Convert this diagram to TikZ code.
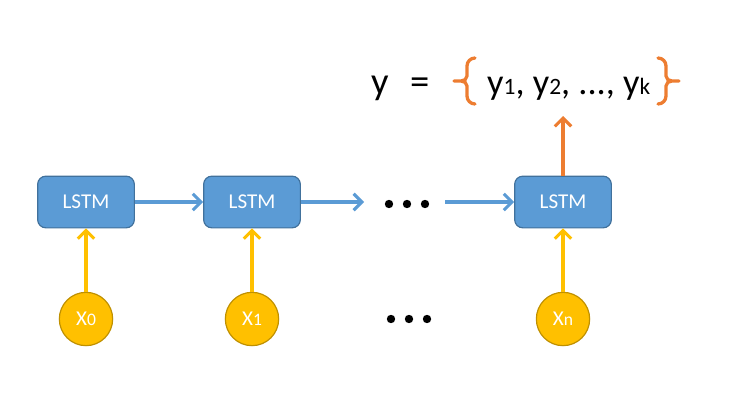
\documentclass[tikz,border=0pt]{standalone}
\usepackage{fontspec}
\setmainfont{Carlito}
\usepackage{tikz}
\usetikzlibrary{positioning, arrows.meta}
\definecolor{cellblue}{RGB}{91,155,213}
\definecolor{cellline}{RGB}{65,113,156}
\definecolor{inyellow}{RGB}{255,192,0}
\definecolor{inline}{RGB}{191,144,0}
\definecolor{outorange}{RGB}{237,125,49}
\tikzset{
  lstmcell/.style={draw=cellline, line width=1pt, fill=cellblue, rounded corners=7pt, text=white,
    minimum width=2.9cm, minimum height=1.55cm, align=center, font=\fontsize{18}{18}\selectfont},
  xinput/.style={circle, draw=inline, line width=1pt, fill=inyellow, text=white,
    minimum size=1.6cm, inner sep=0pt, font=\fontsize{18}{18}\selectfont},
  recedge/.style={draw=cellblue, line width=3pt, -{Straight Barb[length=7pt, width=14pt, line width=2.6pt]}},
  inedge/.style={draw=inyellow, line width=3pt, -{Straight Barb[length=7pt, width=14pt, line width=2.6pt]}},
  outedge/.style={draw=outorange, line width=3pt, -{Straight Barb[length=7pt, width=14pt, line width=2.6pt]}},
  brace/.style={draw=outorange, line width=2.8pt, line cap=round}
}
\begin{document}
\begin{tikzpicture}[x=0.03cm, y=-0.03cm]
  \useasboundingbox (0,0) rectangle (730,396);
  % cells
  \node[lstmcell] (c0) at (86,202)  {LSTM};
  \node[lstmcell] (c1) at (252,202) {LSTM};
  \node[lstmcell] (cn) at (563,202) {LSTM};
  % inputs
  \node[xinput] (x0) at (86,319)  {X{\fontsize{15}{15}\selectfont 0}};
  \node[xinput] (x1) at (252,319) {X{\fontsize{15}{15}\selectfont 1}};
  \node[xinput] (xn) at (563,319) {X{\fontsize{15}{15}\selectfont n}};
  % free ends
  \coordinate (d1) at (364,202);
  \coordinate (d2) at (445,202);
  \coordinate (yout) at (563,116);
  \draw[recedge] (c0) -- (c1);
  \draw[recedge] (c1.east) -- (d1);
  \draw[recedge] (d2) -- (cn.west);
  \foreach \a/\b in {x0/c0, x1/c1, xn/cn}
    \draw[inedge] (\a) -- (\b);
  \draw[outedge] (cn) -- (yout);
  % dots
  \foreach \x in {389, 407, 425} {
    \fill (\x,204) circle (4.2);
    \fill (\x+2,319) circle (4.2);
  }
  % output sequence
  \node[anchor=base west, inner sep=0pt, font=\fontsize{33}{33}\selectfont] (yv) at (371,94) {y};
  \node[anchor=base west, inner sep=0pt, font=\fontsize{33}{33}\selectfont] (eq) at (410,94) {=};
  \node[anchor=base west, inner sep=0pt, font=\fontsize{31}{31}\selectfont] (seq) at (487,94)
    {y{\fontsize{20}{20}\selectfont 1}, y{\fontsize{20}{20}\selectfont 2}, ..., y{\fontsize{20}{20}\selectfont k}};
  \draw[brace] (475,58) to[out=180,in=90] (467,66) -- (467,76) to[out=-90,in=0] (461,81)
    -- (454,81) (461,81) to[out=0,in=90] (467,86) -- (467,96) to[out=-90,in=180] (475,104);
  \draw[brace] (658,58) to[out=0,in=90] (666,66) -- (666,76) to[out=-90,in=180] (672,81)
    -- (679,81) (672,81) to[out=180,in=90] (666,86) -- (666,96) to[out=-90,in=0] (658,104);
\end{tikzpicture}
\end{document}
